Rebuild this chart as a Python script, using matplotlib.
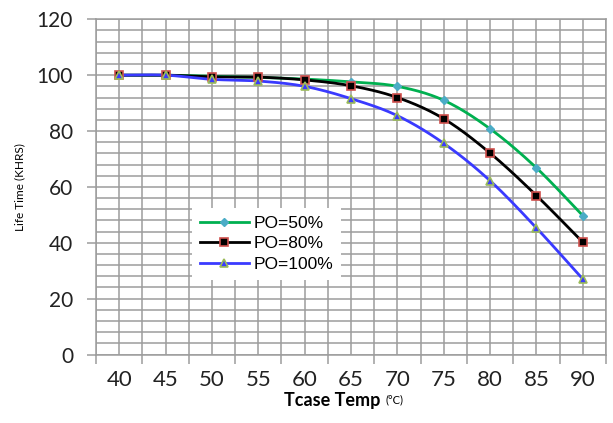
import numpy as np
import matplotlib
matplotlib.use("Agg")
import matplotlib.pyplot as plt

# values
temps = [40, 45, 50, 55, 60, 65, 70, 75, 80, 85, 90]
po_50 = [100, 100, 99.6, 99.2, 98.6, 97.6, 96.0, 91.0, 80.8, 66.8, 49.7]
po_80 = [100, 100, 99.4, 99.3, 98.3, 96.2, 92.0, 84.4, 72.1, 56.9, 40.2]
po_100 = [100, 100, 98.5, 97.9, 96.0, 91.6, 85.5, 75.6, 62.2, 45.3, 27.0]
series_labels = ["PO=50%", "PO=80%", "PO=100%"]

GRID = "#9c9c9c"


def smooth(xs, ys, n=20):
    # catmull-rom path through the points, like excel's smoothed line
    xs = np.asarray(xs, float)
    ys = np.asarray(ys, float)
    px = np.concatenate([[2 * xs[0] - xs[1]], xs, [2 * xs[-1] - xs[-2]]])
    py = np.concatenate([[2 * ys[0] - ys[1]], ys, [2 * ys[-1] - ys[-2]]])
    out_x, out_y = [], []
    t = np.linspace(0, 1, n, endpoint=False)
    for i in range(1, len(px) - 2):
        for p, out in ((px, out_x), (py, out_y)):
            p0, p1, p2, p3 = p[i - 1], p[i], p[i + 1], p[i + 2]
            out.extend(0.5 * (2 * p1 + (-p0 + p2) * t
                              + (2 * p0 - 5 * p1 + 4 * p2 - p3) * t ** 2
                              + (-p0 + 3 * p1 - 3 * p2 + p3) * t ** 3))
    out_x.append(xs[-1])
    out_y.append(ys[-1])
    return out_x, out_y


fig = plt.figure(figsize=(6.13, 4.23), dpi=100)
ax = fig.add_axes([96 / 613, 68.5 / 423, 510 / 613, 335.2 / 423])

idx = np.arange(len(temps))
styles = [
    dict(color="#00b050", marker="D", ms=4, mfc="#4bacc6", mec="#4bacc6"),
    dict(color="black", marker="s", ms=6, mfc="black", mec="#d0504d", mew=1.2),
    dict(color="#3a3aff", marker="^", ms=6, mfc="#3a3aff", mec="#9bbb59", mew=1.2),
]
handles = []
for vals, st, lab in zip([po_50, po_80, po_100], styles, series_labels):
    sx, sy = smooth(idx, vals)
    ax.plot(sx, sy, color=st["color"], lw=2, zorder=3)
    ax.plot(idx, vals, ls="none", marker=st["marker"], ms=st["ms"],
            mfc=st["mfc"], mec=st["mec"], mew=st.get("mew", 1), zorder=4)
    h, = ax.plot([], [], color=st["color"], lw=2, marker=st["marker"], ms=st["ms"],
                 mfc=st["mfc"], mec=st["mec"], mew=st.get("mew", 1))
    handles.append(h)

ax.set_xlim(-0.5, len(temps) - 0.5)
ax.set_ylim(0, 120)

ax.set_xticks(np.arange(-0.5, len(temps), 1))
ax.set_xticklabels([])
ax.set_xticks(idx, labels=[str(t) for t in temps], minor=True)
ax.set_yticks(np.arange(0, 121, 20))
ax.set_yticks(np.arange(0, 121, 4), minor=True)

ax.tick_params(axis="x", which="major", length=6.5, width=1.1, color=GRID, direction="out")
ax.tick_params(axis="x", which="minor", length=0, pad=11, labelsize=16)
ax.tick_params(axis="y", which="major", length=6.5, width=1.1, color=GRID,
               direction="out", pad=10, labelsize=15)
ax.tick_params(axis="y", which="minor", length=0)
for lbl in ax.get_xticklabels(minor=True) + ax.get_yticklabels():
    lbl.set_family("Lato")
    lbl.set_color("#222222")

ax.grid(True, which="both", color=GRID, lw=1.1)
ax.set_axisbelow(True)
for sp in ax.spines.values():
    sp.set_color(GRID)
    sp.set_linewidth(1.1)

ax.set_ylabel("Life Time (KHRS)", family="Lato", fontsize=8.5, labelpad=8)
fig.text(380 / 613, (423 - 400) / 423, "Tcase Temp", family="Lato",
         weight="bold", fontsize=13, ha="right", va="center")
fig.text(386 / 613, (423 - 400) / 423, "(°C)", family="Lato", fontsize=8,
         ha="left", va="center")

leg = ax.legend(handles, series_labels, loc="upper left",
                bbox_to_anchor=((191.7 - 96) / 510, (354.5 - 208) / 335.2),
                borderaxespad=0, frameon=True, fancybox=False, edgecolor="none",
                framealpha=1, prop={"family": "Liberation Sans", "size": 12.5},
                handlelength=2.85, handletextpad=0.25, labelspacing=0.3,
                borderpad=0.45)

fig.savefig("out.png", dpi=100)
